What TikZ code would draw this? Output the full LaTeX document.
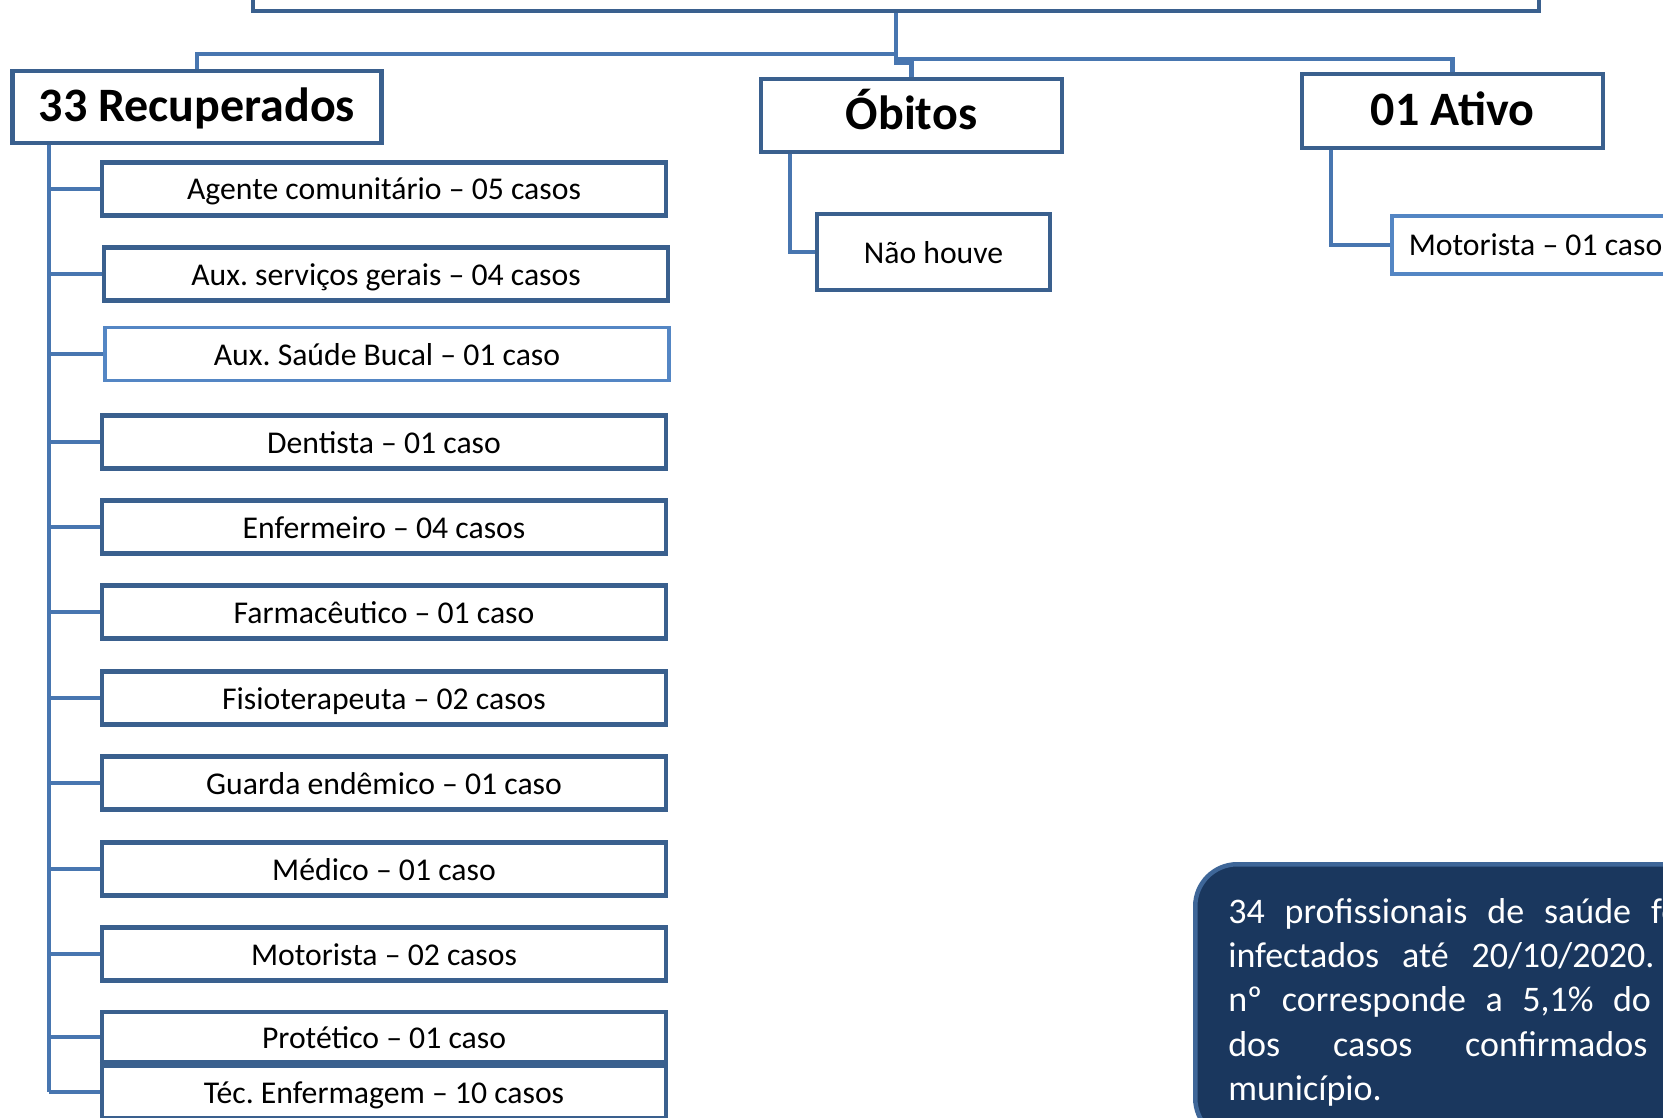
\documentclass[tikz,border=0pt]{standalone}
\usepackage{fontspec}
\setmainfont{Carlito}
\usetikzlibrary{positioning,shapes,arrows}
\definecolor{boxblue}{RGB}{58,96,142}
\definecolor{lineblue}{RGB}{72,118,176}
\definecolor{lightblue}{RGB}{84,134,196}
\definecolor{navy}{RGB}{26,55,94}
\definecolor{navyedge}{RGB}{62,102,152}
\frenchspacing

\begin{document}
\begin{tikzpicture}[x=1pt, y=-1pt,
    conn/.style={lineblue, line width=4.5pt},
    headbox/.style={draw=boxblue, line width=4.5pt, fill=white, inner sep=0pt,
        text height=37pt, text depth=8pt, font=\fontsize{48}{56}\selectfont\bfseries},
    itembox/.style={draw=boxblue, line width=4.5pt, fill=white, inner sep=0pt,
        minimum width=564pt, minimum height=53pt, text height=28pt, text depth=6pt,
        font=\fontsize{31.7}{38}\selectfont}]
    \useasboundingbox (0,0) rectangle (1663,1118);
    \clip (0,0) rectangle (1663,1118);

    % Title box (cut at the top)
    \node[draw=boxblue, line width=4.5pt, minimum width=1286pt, minimum height=72pt] (title) at (896,-25) {};

    % Branch boxes
    \node[headbox, minimum width=369pt, minimum height=72pt] (recup) at (197,107) {33 Recuperados};
    \node[headbox, minimum width=301pt, minimum height=73pt] (obitos) at (911.5,115.5) {Óbitos};
    \node[headbox, minimum width=301pt, minimum height=74pt] (ativo) at (1452.5,111) {01 Ativo};

    % Connectors from title
    \coordinate (j1) at (896,54);
    \coordinate (j2) at (896,59);
    \draw[conn] (title.south) -- (j1) -| (recup.north);
    \draw[conn] (j1) -- (j2) -| (ativo.north);
    \draw[conn] (j2) -- ++(0,4) -| (obitos.north);

    % Óbitos branch
    \node[itembox, minimum width=233pt, minimum height=76pt] (naohouve) at (933.5,252) {Não houve};
    \coordinate (ob) at (790,154);
    \draw[conn] (ob) |- (naohouve.west);

    % Ativo branch
    \node[itembox, draw=lightblue, minimum width=287pt, minimum height=58pt] (mot1) at (1535.5,245) {Motorista – 01 caso};
    \coordinate (at) at (1331,150);
    \draw[conn] (at) |- (mot1.west);

    % Recuperados list
    \coordinate (rt) at (49,145);
    \foreach \i/\x/\y/\txt in {1/384/189/Agente comunitário – 05 casos,
        2/386/274/Aux. serviços gerais – 04 casos,
        4/384/442/Dentista – 01 caso,
        5/384/527/Enfermeiro – 04 casos,
        6/384/612/Farmacêutico – 01 caso,
        7/384/698/Fisioterapeuta – 02 casos,
        8/384/783/Guarda endêmico – 01 caso,
        9/384/869/Médico – 01 caso,
        10/384/954/Motorista – 02 casos,
        12/384/1092/Téc. Enfermagem – 10 casos} {
        \node[itembox] (r\i) at (\x,\y) {\txt};
    }
    \node[itembox, draw=lightblue, line width=3.5pt] (r3) at (387,354) {Aux. Saúde Bucal – 01 caso};
    \node[itembox, minimum height=50pt] (r11) at (384,1037) {Protético – 01 caso};
    \draw[boxblue, line width=4.5pt] (r11.south west) -- (r11.south east);

    \draw[conn] (rt) -- (rt |- r12.west);
    \foreach \i in {1,...,12} {
        \draw[conn] (rt |- r\i.west) -- (r\i.west);
    }

    % Info box
    \node[draw=navyedge, line width=4.5pt, fill=navy, rounded corners=42pt, anchor=north west,
        text=white, text width=510pt, align=justify, inner xsep=33pt, inner ysep=34pt,
        font=\fontsize{36}{44.3}\selectfont] (info) at (1193,862)
        {34 profissionais de saúde foram\linebreak infectados até 20/10/2020. Este\linebreak
         nº corresponde a 5,1\% do total\linebreak dos casos confirmados no\linebreak município.};
\end{tikzpicture}
\end{document}
